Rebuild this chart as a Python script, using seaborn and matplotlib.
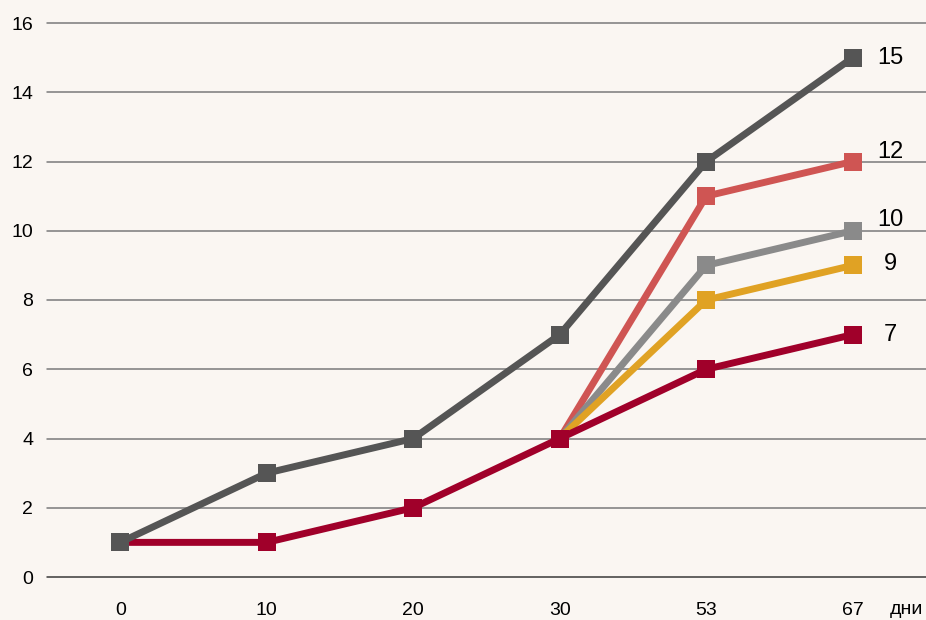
import matplotlib
matplotlib.use("Agg")
import matplotlib.pyplot as plt
import seaborn as sns
import pandas as pd

# Days on the horizontal axis (shown as evenly spaced categories)
days = ["0", "10", "20", "30", "53", "67"]

# Series values per day (None where a series is not drawn)
dark_vals = [1, 3, 4, 7, 12, 15]
red_vals = [None, None, None, 4, 11, 12]
grey_vals = [None, None, None, 4, 9, 10]
orange_vals = [None, None, None, 4, 8, 9]
crimson_vals = [1, 1, 2, 4, 6, 7]

y_ticks = [0, 2, 4, 6, 8, 10, 12, 14, 16]
unit_label = "дни"

bg = "#faf6f2"
sns.set_theme(style="white")
plt.rcParams["font.family"] = ["Liberation Sans", "DejaVu Sans"]

fig = plt.figure(figsize=(9.26, 6.2), dpi=100, facecolor=bg)
ax = fig.add_axes([47 / 926, 43 / 620, 1 - 47 / 926, (577 - 23) / 620])
ax.set_facecolor(bg)

# horizontal grid lines
for t in y_ticks:
    ax.axhline(t, color="#3a3a3a" if t == 0 else "#7a7a7a", lw=1.1,
               zorder=1, clip_on=False)

series = [
    ("red", red_vals, "#cf5553"),
    ("grey", grey_vals, "#8a8a8a"),
    ("orange", orange_vals, "#e0a224"),
    ("crimson", crimson_vals, "#a0002a"),
    ("dark", dark_vals, "#555555"),
]

for i, (name, vals, col) in enumerate(series):
    df = pd.DataFrame({"x": range(len(days)), "y": vals}).dropna()
    sns.lineplot(data=df, x="x", y="y", ax=ax, color=col, lw=5,
                 marker="s", markersize=13, markeredgewidth=0,
                 zorder=3 + i, legend=False)

# value labels at the last point
end_labels = [(15, 0), (12, 6.5), (10, 8), (9, 1), (7, 0)]
for v, dy in end_labels:
    ax.annotate(str(v), xy=(len(days) - 1, v), xytext=(27, dy),
                textcoords="offset points", ha="center", va="center",
                fontsize=17, color="black")

ax.set_xlim(-0.5, len(days) - 0.5)
ax.set_ylim(0, 16)
ax.set_xticks(range(len(days)))
ax.set_xticklabels(days)
ax.set_yticks(y_ticks)
ax.set_yticklabels([str(t) for t in y_ticks])
ax.tick_params(axis="both", length=0, labelsize=14, colors="black")
ax.tick_params(axis="y", pad=10)
ax.tick_params(axis="x", pad=18)
ax.set_xlabel("")
ax.set_ylabel("")
for s in ax.spines.values():
    s.set_visible(False)

fig.text(906 / 926, 1 - 610 / 620, unit_label, ha="center", va="center",
         fontsize=14, color="black")

fig.savefig("out.png", dpi=100, facecolor=bg)
